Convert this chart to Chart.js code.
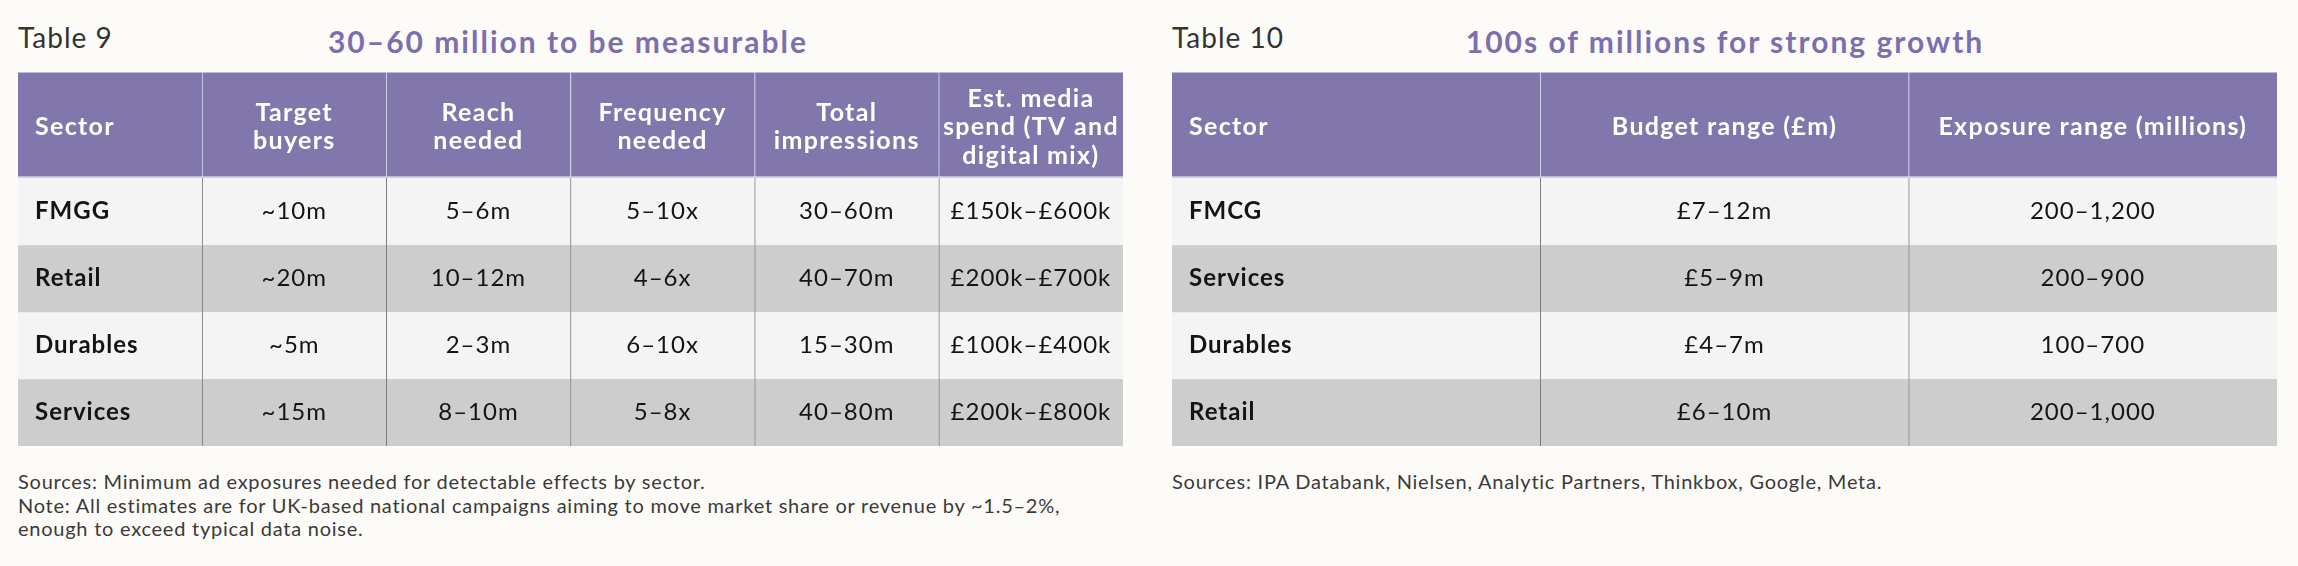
<!DOCTYPE html>
<html>
<head>
<meta charset="utf-8">
<title>Tables 9 and 10</title>
<script src="https://cdn.jsdelivr.net/npm/chart.js"></script>
<style>
  html, body { margin: 0; padding: 0; background: #fdfbf8; }
  body { width: 2298px; height: 566px; position: relative; overflow: hidden; font-family: Lato, "Open Sans", sans-serif; }
  .label { position: absolute; top: 23px; font-size: 28px; line-height: 28px; letter-spacing: 1px; color: #333; }
  .title { position: absolute; top: 26px; width: 800px; text-align: center; font-size: 30px; line-height: 30px; letter-spacing: 2px; font-weight: 700; color: #7b6fae; }
  .note { position: absolute; top: 470px; font-size: 20px; line-height: 23.5px; letter-spacing: 0.75px; color: #3a3a3a; }
  .table { position: absolute; top: 72px; width: 1105px; height: 374px; }
</style>
</head>
<body>
  <div class="label" style="left:18px">Table 9</div>
  <div class="title" style="left:168px">30–60 million to be measurable</div>
  <div class="table" style="left:18px"><canvas id="table9"></canvas></div>
  <div class="note" style="left:18px">Sources: Minimum ad exposures needed for detectable effects by sector.<br>Note: All estimates are for UK-based national campaigns aiming to move market share or revenue by ~1.5–2%,<br>enough to exceed typical data noise.</div>

  <div class="label" style="left:1172px">Table 10</div>
  <div class="title" style="left:1325px">100s of millions for strong growth</div>
  <div class="table" style="left:1172px"><canvas id="table10"></canvas></div>
  <div class="note" style="left:1172px">Sources: IPA Databank, Nielsen, Analytic Partners, Thinkbox, Google, Meta.</div>

<script>
/*************************************************************
 * Data
 *************************************************************/
const headers9 = ["Sector", "Target\nbuyers", "Reach\nneeded", "Frequency\nneeded", "Total\nimpressions", "Est. media\nspend (TV and\ndigital mix)"];
const sectors9 = ["FMGG", "Retail", "Durables", "Services"];
const targetBuyers = ["~10m", "~20m", "~5m", "~15m"];
const reachNeeded = ["5–6m", "10–12m", "2–3m", "8–10m"];
const frequencyNeeded = ["5–10x", "4–6x", "6–10x", "5–8x"];
const totalImpressions = ["30–60m", "40–70m", "15–30m", "40–80m"];
const mediaSpend = ["£150k–£600k", "£200k–£700k", "£100k–£400k", "£200k–£800k"];

const headers10 = ["Sector", "Budget range (£m)", "Exposure range (millions)"];
const sectors10 = ["FMCG", "Services", "Durables", "Retail"];
const budgetRange = ["£7–12m", "£5–9m", "£4–7m", "£6–10m"];
const exposureRange = ["200–1,200", "200–900", "100–700", "200–1,000"];

/*************************************************************
 * Styles
 *************************************************************/
const HEADER_HEIGHT = 1.58; // header row, in body-row units
const HEADER_BG = "#8177ad";
const HEADER_RULE = "#d3cee8";
const ROW_LIGHT = "#f4f4f4";
const ROW_DARK = "#cdcdcd";
const BODY_RULE = "#7c7c7c";
const FONT = "Lato, 'Open Sans', sans-serif";

/*************************************************************
 * Cell text plugin
 *************************************************************/
const cellText = {
  id: "cellText",
  afterDatasetsDraw(chart, args, opts) {
    const ctx = chart.ctx;
    ctx.save();
    ctx.textBaseline = "middle";

    chart.data.datasets.forEach((dataset, row) => {
      const meta = chart.getDatasetMeta(row);

      meta.data.forEach((bar, col) => {
        const { x, y, base, width } = bar.getProps(["x", "y", "base", "width"], true);
        const lines = String(opts.rows[row][col]).split("\n");
        const header = row === 0;
        const cy = (y + base) / 2 + (header ? 2 : 0);

        ctx.font = `${header || col === 0 ? 700 : 400} ${header ? 25 : 24}px ${FONT}`;
        ctx.letterSpacing = header ? "1.3px" : "1px";
        ctx.fillStyle = header ? "#ffffff" : "#141414";
        ctx.textAlign = col === 0 ? "left" : "center";
        const tx = col === 0 ? x - width / 2 + 17 : x;

        lines.forEach((line, k) => {
          ctx.fillText(line, tx, cy + (k - (lines.length - 1) / 2) * 28.5);
        });
      });
    });

    ctx.restore();
  },
};

/*************************************************************
 * Table chart
 *************************************************************/
const buildRows = (headers, sectors, columns) => [
  headers,
  ...sectors.map((sector, i) => [sector, ...columns.map((column) => column[i])]),
];

const renderTable = (id, rows) => {
  const bodyRows = rows.length - 1;

  const datasets = rows.map((row, r) => ({
    data: row.map(() =>
      r === 0 ? [0, HEADER_HEIGHT] : [HEADER_HEIGHT + r - 1, HEADER_HEIGHT + r]
    ),
    backgroundColor: r === 0 ? HEADER_BG : r % 2 ? ROW_LIGHT : ROW_DARK,
    borderColor: r === 0 ? HEADER_RULE : BODY_RULE,
    borderWidth: (context) => ({
      top: r === 0 ? 1 : 0,
      bottom: r === 0 ? 2 : 0,
      left: context.dataIndex > 0 ? 1 : 0,
      right: 0,
    }),
    borderSkipped: false,
    borderRadius: 0,
    grouped: false,
    categoryPercentage: 1,
    barPercentage: 1,
  }));

  return new Chart(document.getElementById(id).getContext("2d"), {
    type: "bar",
    data: { labels: rows[0].map((h, i) => i), datasets },
    options: {
      animation: false,
      responsive: true,
      maintainAspectRatio: false,
      events: [],
      layout: { padding: 0 },
      plugins: {
        legend: { display: false },
        tooltip: { enabled: false },
        cellText: { rows },
      },
      scales: {
        x: { type: "category", display: false, offset: true },
        y: { type: "linear", display: false, reverse: true, min: 0, max: HEADER_HEIGHT + bodyRows },
      },
    },
    plugins: [cellText],
  });
};

renderTable(
  "table9",
  buildRows(headers9, sectors9, [targetBuyers, reachNeeded, frequencyNeeded, totalImpressions, mediaSpend])
);

renderTable("table10", buildRows(headers10, sectors10, [budgetRange, exposureRange]));
</script>
</body>
</html>
